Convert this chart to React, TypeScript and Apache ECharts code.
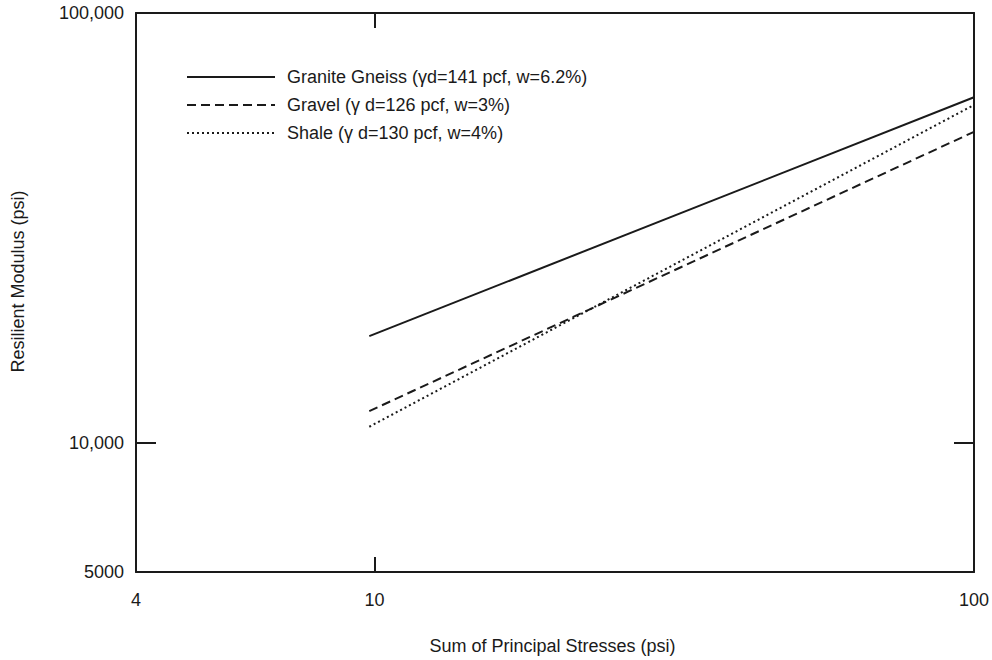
import React, { useEffect, useRef } from "react";
import * as echarts from "echarts";

const xStart = 9.8;
const xEnd = 100;
const graniteValues = [17700, 63650];
const gravelValues = [11840, 52900];
const shaleValues = [10890, 61100];
const seriesNames = [
  "Granite Gneiss (γd=141 pcf, w=6.2%)",
  "Gravel (γ d=126 pcf, w=3%)",
  "Shale (γ d=130 pcf, w=4%)",
];
const xMin = 4;
const xMax = 100;
const yMin = 5000;
const yMax = 100000;

const FONT = 'Arial, "Liberation Sans", Helvetica, sans-serif';
const INK = "#1a1a1a";
const FS = 18;

export default function App() {
  const ref = useRef<HTMLDivElement>(null);
  useEffect(() => {
    if (!ref.current) return;
    const chart = echarts.init(ref.current, undefined, { renderer: "svg" });
    const pairs = (vals: number[]) => [
      [xStart, vals[0]],
      [xEnd, vals[1]],
    ];
    const yFmt = (v: number) => {
      const r = Math.round(v);
      return r >= 10000 ? r.toLocaleString("en-US") : String(r);
    };
    const xFmt = (v: number) => String(Math.round(v));
    const lineSeries = (name: string, vals: number[], type: any, width: number) => ({
      name,
      type: "line",
      data: pairs(vals),
      symbol: "none",
      lineStyle: { color: INK, width, type },
      itemStyle: { color: INK },
    });
    chart.setOption({
      animation: false,
      backgroundColor: "#fff",
      textStyle: { fontFamily: FONT },
      grid: { left: 136, right: 16, top: 13, bottom: 88, containLabel: false },
      legend: {
        orient: "vertical",
        left: 181,
        top: 63,
        itemWidth: 88,
        itemHeight: 14,
        itemGap: 10,
        itemStyle: { opacity: 0 },
        textStyle: { fontFamily: FONT, fontSize: FS, lineHeight: 18, color: INK, padding: [0, 0, 0, 7] },
        data: seriesNames,
      },
      xAxis: [
        {
          type: "log",
          logBase: 10,
          min: xMin,
          max: xMax,
          position: "bottom",
          name: "Sum of Principal Stresses (psi)",
          nameLocation: "middle",
          nameGap: 65,
          nameTextStyle: { fontFamily: FONT, fontSize: FS, color: INK, padding: [0, 5, 0, 0] },
          axisLine: { show: true, lineStyle: { color: INK, width: 2 } },
          axisTick: { show: true, inside: true, length: 15, lineStyle: { color: INK, width: 2 } },
          axisLabel: { fontFamily: FONT, fontSize: FS, color: INK, margin: 19, formatter: xFmt, showMinLabel: true, showMaxLabel: true },
          splitLine: { show: false },
          minorTick: { show: false },
        },
        {
          type: "log",
          logBase: 10,
          min: xMin,
          max: xMax,
          position: "top",
          axisLine: { show: true, lineStyle: { color: INK, width: 2 } },
          axisTick: { show: true, inside: true, length: 15, lineStyle: { color: INK, width: 2 } },
          axisLabel: { show: false },
          splitLine: { show: false },
        },
      ],
      yAxis: [
        {
          type: "log",
          logBase: 10,
          min: yMin,
          max: yMax,
          position: "left",
          name: "Resilient Modulus (psi)",
          nameLocation: "middle",
          nameGap: 109,
          nameTextStyle: { fontFamily: FONT, fontSize: FS, color: INK, padding: [0, 0, 0, 22] },
          axisLine: { show: true, lineStyle: { color: INK, width: 2 } },
          axisTick: { show: true, inside: true, length: 20, lineStyle: { color: INK, width: 2 } },
          axisLabel: { fontFamily: FONT, fontSize: FS, color: INK, margin: 12, formatter: yFmt, showMinLabel: true, showMaxLabel: true },
          splitLine: { show: false },
        },
        {
          type: "log",
          logBase: 10,
          min: yMin,
          max: yMax,
          position: "right",
          axisLine: { show: true, lineStyle: { color: INK, width: 2 } },
          axisTick: { show: true, inside: true, length: 20, lineStyle: { color: INK, width: 2 } },
          axisLabel: { show: false },
          splitLine: { show: false },
        },
      ],
      series: [
        lineSeries(seriesNames[0], graniteValues, "solid", 2),
        lineSeries(seriesNames[1], gravelValues, [9, 5], 2),
        lineSeries(seriesNames[2], shaleValues, [2, 3], 2),
      ],
    });
    return () => chart.dispose();
  }, []);
  return (
    <div
      ref={ref}
      style={{ position: "fixed", left: 0, top: 0, width: 992, height: 660, background: "#fff" }}
    />
  );
}
